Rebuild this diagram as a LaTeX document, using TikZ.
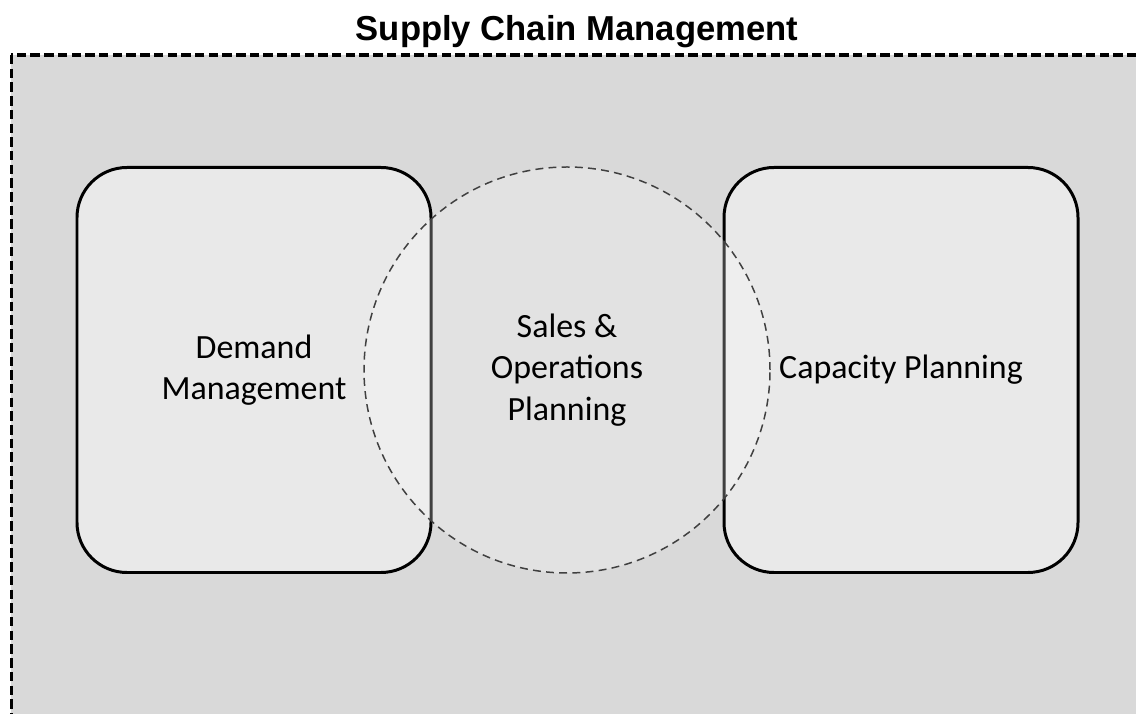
\documentclass[tikz,border=0pt]{standalone}
\usepackage{fontspec}
\setmainfont{Carlito}
\newfontfamily\titlefont{Liberation Sans}
\usepackage{tikz, xcolor}
\definecolor{scmGray}{HTML}{D9D9D9}
\definecolor{areaGray}{HTML}{E9E9E9}
\definecolor{ringGray}{HTML}{404040}
\tikzset{
  area/.style={draw=black, line width=1.7pt, fill=areaGray, rounded corners=1cm,
    minimum width=7.08cm, minimum height=8.1cm, align=center,
    font=\fontsize{19.3}{23.6}\selectfont},
  ring/.style={circle, draw=ringGray, line width=0.85pt, dash pattern=on 4.5pt off 3pt,
    fill=white, fill opacity=0.25, text opacity=1, minimum size=8.12cm, inner sep=0pt,
    align=center, font=\fontsize{19.3}{23.6}\selectfont}
}
\begin{document}
\begin{tikzpicture}
\clip (0,0) rectangle (22.72,14.26);
\fill[white] (0,0) rectangle (22.72,14.26);
\draw[fill=scmGray, line width=2pt, dash pattern=on 5.4pt off 2.4pt] (0.23,13.16) rectangle (23.5,-1);
\node[font=\titlefont\bfseries\fontsize{19.7}{23}\selectfont] (title) at (11.54,13.62) {Supply Chain Management};
\node[area] (demand) at (5.08,6.86) {Demand\\Management};
\node[area] (capacity) at (18.02,6.86) {\phantom{Capacity Planning}};
\node[ring] (sop) at (11.34,6.86) {Sales \&\\Operations\\Planning};
\node[font=\fontsize{19.3}{23.6}\selectfont] (caplabel) at (capacity) {Capacity Planning};
\end{tikzpicture}
\end{document}
